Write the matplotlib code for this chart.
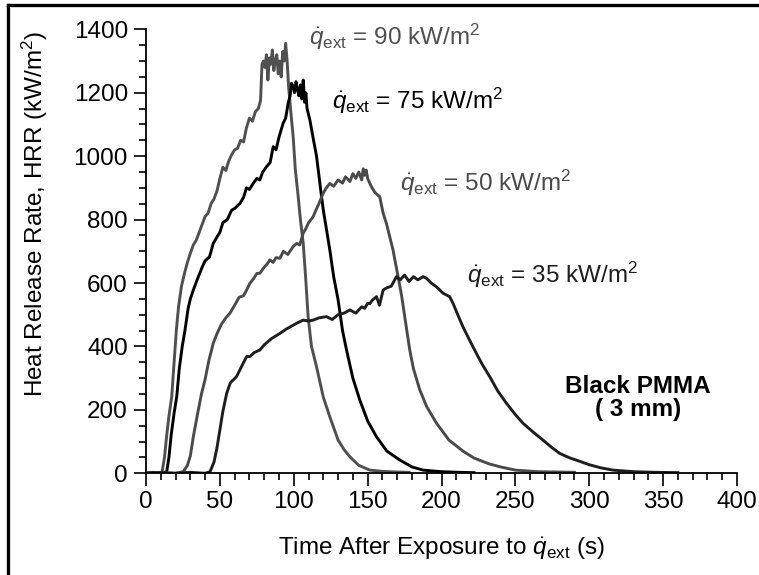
import matplotlib
matplotlib.use("Agg")
import matplotlib.pyplot as plt
from matplotlib.lines import Line2D
from matplotlib.ticker import MultipleLocator

plt.rcParams['font.family'] = ['Liberation Sans', 'DejaVu Sans']
plt.rcParams['mathtext.fontset'] = 'custom'
plt.rcParams['mathtext.rm'] = 'Liberation Sans'
plt.rcParams['mathtext.it'] = 'Liberation Sans:italic'
plt.rcParams['mathtext.bf'] = 'Liberation Sans:bold'

# HRR curves: time (s), heat release rate (kW/m2)
t90 = [0, 5, 10, 11, 12.5, 14, 15.5, 17.4, 19, 20.5, 22, 24, 26, 28, 30, 32, 34, 36, 38, 40,
       42, 44, 46, 48, 50, 52, 54, 56, 58, 60, 62, 64, 66, 68, 70, 72, 74, 76, 77.5, 78.5,
       79.5, 80.5, 81.5, 82.5, 83.5, 84.5, 85.5, 86.5, 87.5, 88.5, 89.5, 90.5, 91.5, 92.5, 93.5, 94.5,
       95.5, 96.5, 98, 99.6, 101, 103, 104.5, 106.4, 108, 109.7, 112, 115.4, 120, 124.4, 130, 134,
       138, 144, 151.5, 160, 170, 178]
hrr90 = [0, 3, 0, 8, 50, 120, 180, 242, 350, 450, 525, 590, 630, 665, 694, 720, 735, 760, 785, 810,
         820, 850, 865, 890, 930, 965, 955, 985, 1005, 1020, 1025, 1050, 1045, 1090, 1120, 1110, 1140, 1150, 1175, 1290,
         1300, 1280, 1320, 1240, 1310, 1290, 1335, 1270, 1300, 1320, 1260, 1300, 1250, 1330, 1300, 1356,
         1300, 1219, 1140, 1061, 960, 872, 800, 725, 620, 494, 400, 336, 240, 178, 105, 75,
         52, 25, 10, 6, 4, 3]

t75 = [0, 5, 10, 14, 15.5, 17, 19, 20.8, 22.5, 24.5, 26.4, 28.5, 30, 32, 35, 38, 40, 43, 45.5, 48,
       50, 52, 55, 58, 60, 63.6, 66, 68, 70, 72.5, 75, 77, 79, 81.6, 84, 86.1, 88, 90, 92.8, 94.5,
       96.2, 97.5, 98.5, 99.6, 100.5, 101.5, 102.5, 103.5, 104.5, 105.5, 106.4, 107.3, 108.2, 109, 110.9, 113,
       115.4, 117, 118.8, 120, 122.2, 124.4, 127, 130, 133, 135.7, 140, 144.7, 150, 156, 163, 171.7,
       180, 187.5, 200, 212, 222]
hrr75 = [0, 2, 0, 5, 50, 120, 190, 242, 330, 400, 452, 520, 550, 578, 615, 650, 670, 683, 725, 745,
         760, 790, 800, 830, 835, 851, 870, 900, 895, 914, 930, 925, 950, 967, 980, 1030, 1020, 1060, 1104, 1120,
         1167, 1190, 1230, 1219, 1200, 1235, 1210, 1190, 1225, 1180, 1240, 1170, 1200, 1150, 1114, 1060,
         1000, 940, 872, 830, 767, 704, 620, 547, 450, 389, 300, 231, 165, 115, 70, 42,
         20, 10, 5, 3, 2]

t50 = [0, 10, 20, 25.2, 28, 30, 32, 35, 37.5, 39.9, 42.5, 45.5, 48, 51, 54, 56.8, 60, 63, 66, 68.1,
       70.3, 73, 75, 77.1, 80, 82, 83.8, 86, 88, 90.6, 93, 96, 99.6, 102, 104, 106.4, 108, 110, 113.1, 115,
       117, 119.9, 122, 124.4, 127, 130, 133, 135, 138, 140, 142, 144, 146, 147, 148, 149, 150, 151.5, 153, 155,
       158.2, 160.5, 162.7, 165, 167.2, 170.6, 173, 175.1, 178.5, 181, 185.3, 190, 196.6, 205, 214.5, 222,
       232, 240, 250, 265, 290]
hrr50 = [0, 2, 0, 5, 25, 55, 115, 190, 250, 294, 355, 410, 440, 470, 490, 505, 530, 555, 560, 578,
         599, 615, 630, 631, 650, 660, 673, 665, 680, 678, 700, 690, 715, 725, 720, 757, 770, 790, 809, 830,
         850, 883, 900, 914, 905, 925, 915, 935, 920, 945, 930, 950, 925, 960, 940, 956, 930, 914, 900, 885,
         872, 820, 788, 745, 704, 620, 560, 494, 389, 330, 263, 210, 158, 105, 70, 48,
         30, 20, 10, 5, 3]

t35 = [0, 10, 20, 30, 40, 43.3, 46, 48, 50, 52, 54.6, 57, 61.3, 65, 68.1, 70.3, 73, 77.1, 80, 85,
       90.6, 95, 101.9, 106.4, 110, 113.1, 117, 122.2, 126, 130, 134, 138, 142, 146, 148, 150, 151.5, 153, 156, 158,
       160.5, 163, 166, 169.5, 172, 175, 178, 181, 184, 187.5, 189.8, 193, 196.6, 201, 205.5, 207.8, 211, 214.5,
       219, 223.6, 228, 232.6, 238, 243.9, 250, 255.1, 262, 268.6, 275, 279.9, 286, 293.4, 300, 308, 316,
       330, 345, 360]
hrr35 = [0, 2, 0, 3, 0, 5, 35, 80, 137, 195, 252, 285, 305, 340, 368, 368, 380, 389, 405, 425,
         441, 455, 473, 483, 480, 483, 490, 494, 485, 500, 505, 515, 505, 525, 520, 536, 535, 545, 557, 530,
         578, 585, 590, 620, 610, 625, 605, 620, 610, 620, 615, 600, 588, 568, 557, 536, 500, 462,
         420, 378, 340, 305, 260, 221, 185, 158, 130, 105, 80, 63, 50, 38, 27, 17, 10,
         5, 3, 2]

series = [(t90, hrr90, '#505050'), (t75, hrr75, '#000000'),
          (t50, hrr50, '#4a4a4a'), (t35, hrr35, '#1e1e1e')]
flux_labels = ['90', '75', '50', '35']

fig = plt.figure(figsize=(7.59, 5.75), dpi=100)
ax = fig.add_axes([0.1924, 0.1769, 0.7786, 0.7721])

for t, h, c in series:
    ax.plot(t, h, color=c, lw=2.1, solid_joinstyle='round')

ax.set_xlim(0, 400)
ax.set_ylim(0, 1400)
ax.xaxis.set_major_locator(MultipleLocator(50))
ax.xaxis.set_minor_locator(MultipleLocator(10))
ax.yaxis.set_major_locator(MultipleLocator(200))
ax.yaxis.set_minor_locator(MultipleLocator(50))
ax.spines['top'].set_visible(False)
ax.spines['right'].set_visible(False)
for s in ['left', 'bottom']:
    ax.spines[s].set_linewidth(1.3)
ax.tick_params(which='major', direction='out', length=9, width=1.2, labelsize=17.5, pad=4)
ax.tick_params(which='minor', direction='out', length=5, width=1.2)

ax.set_ylabel('Heat Release Rate, HRR (kW/m$^2$)', fontsize=17.5)
ax.yaxis.set_label_coords(-0.162, 0.585)
ax.set_xlabel(r'Time After Exposure to $\dot{q}_{\mathrm{ext}}$ (s)', fontsize=17.5, labelpad=16)

qlab = r'$\dot{q}_{\mathrm{ext}}$ = %s kW/m$^2$'
label_pos = [(110, 1376, '#505050'), (126, 1174, '#000000'),
             (172, 915, '#4a4a4a'), (217, 625, '#1e1e1e')]
for (x, y, c), f in zip(label_pos, flux_labels):
    ax.text(x, y, qlab % f, fontsize=17.5, color=c, ha='left', va='center')

ax.text(333, 238, 'Black PMMA\n( 3 mm)', fontsize=17.5, fontweight='bold',
        ha='center', va='center', linespacing=1.0)

# outer frame (only top and left edges visible in the reference crop)
fig.add_artist(Line2D([8 / 759, 8 / 759], [0, 1 - 5 / 575], color='black', lw=2.4,
                      transform=fig.transFigure))
fig.add_artist(Line2D([8 / 759, 1], [1 - 5 / 575, 1 - 5 / 575], color='black', lw=2.4,
                      transform=fig.transFigure))

fig.savefig('out.png', dpi=100)
